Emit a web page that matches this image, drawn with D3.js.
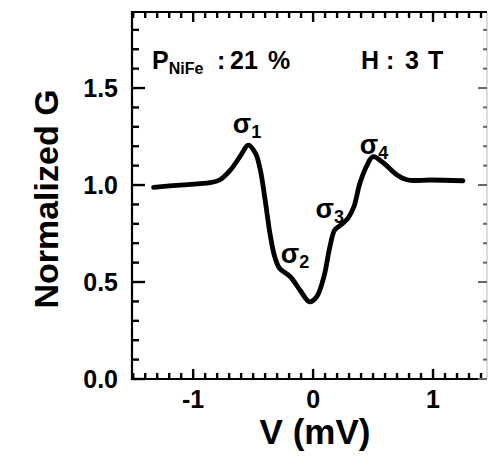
<!DOCTYPE html>
<html>
<head>
<meta charset="utf-8">
<script src="https://cdn.jsdelivr.net/npm/d3@7"></script>
<style>
  html,body{margin:0;padding:0;background:#fff;}
  #chart{width:488px;height:457px;}
  text{font-family:"Liberation Sans",Arial,sans-serif;font-weight:bold;fill:#000;}
</style>
</head>
<body>
<div id="chart"></div>
<script>
// Normalized conductance vs bias, P_NiFe 21 %, H = 3 T
const voltage = [-1.33,-1.11,-0.86,-0.78,-0.69,-0.61,-0.54,-0.48,-0.44,-0.40,-0.36,-0.32,-0.28,-0.19,-0.11,-0.03,0.03,0.09,0.14,0.18,0.23,0.29,0.34,0.39,0.45,0.50,0.59,0.70,0.79,0.98,1.25];
const conductance = [0.988,1.000,1.012,1.026,1.077,1.146,1.206,1.163,1.077,0.923,0.751,0.630,0.571,0.527,0.459,0.398,0.424,0.527,0.682,0.768,0.794,0.828,0.888,1.009,1.103,1.146,1.112,1.052,1.026,1.026,1.022];
const yTicks = [0.0, 0.5, 1.0, 1.5];
const xTicks = [-1, 0, 1];
const peakLabels = [
  {sub:'1', v:-0.67, g:1.27},
  {sub:'2', v:-0.27, g:0.60},
  {sub:'3', v:0.02, g:0.83},
  {sub:'4', v:0.39, g:1.16}
];

(function(){
  const W = 488, H = 457;
  const left = 132, right = 487, top = 12, bottom = 379;

  const svg = d3.select('#chart').append('svg').attr('width',W).attr('height',H);

  const x = d3.scaleLinear().domain([-1.51, 1.45]).range([left, right]);
  const y = d3.scaleLinear().domain([0, 1.892]).range([bottom, top]);

  const allX = d3.range(-15, 15).map(d=>d/10);
  const allY = d3.range(0, 19).map(d=>d/10);
  const isMajX = d=>xTicks.some(t=>Math.abs(t-d)<1e-6);
  const isMajY = d=>yTicks.some(t=>Math.abs(t-d)<1e-6);

  // frame
  svg.append('line').attr('x1',right).attr('x2',right).attr('y1',top).attr('y2',bottom)
    .attr('stroke','#bbb').attr('stroke-width',1);
  svg.append('path').attr('d',`M${right},${top}H${left}V${bottom}H${right}`)
    .attr('fill','none').attr('stroke','#000').attr('stroke-width',2.2);

  // ticks (inward)
  const tickG = svg.append('g').attr('fill','#000');
  tickG.selectAll('.xb').data(allX).enter().append('rect')
    .attr('x',d=>x(d)-1.2).attr('width',2.4)
    .attr('y',d=>bottom-(isMajX(d)?10:6)).attr('height',d=>isMajX(d)?10:6);
  tickG.selectAll('.xt').data(allX).enter().append('rect')
    .attr('x',d=>x(d)-1.2).attr('width',2.4)
    .attr('y',top).attr('height',d=>isMajX(d)?10:6);
  tickG.selectAll('.yl').data(allY).enter().append('rect')
    .attr('x',left).attr('width',d=>isMajY(d)?13:7)
    .attr('y',d=>y(d)-1.2).attr('height',2.4);
  svg.append('g').attr('fill','#666').selectAll('rect').data(allY).enter().append('rect')
    .attr('x',d=>right-(isMajY(d)?9:4)).attr('width',d=>isMajY(d)?9:4)
    .attr('y',d=>y(d)-1).attr('height',2);

  // tick labels
  svg.append('g').selectAll('text').data(xTicks).enter().append('text')
    .attr('x',d=>x(d)).attr('y',bottom+29).attr('text-anchor','middle').attr('font-size',25)
    .text(d=>d<0?'-'+Math.abs(d):String(d));
  svg.append('g').selectAll('text').data(yTicks).enter().append('text')
    .attr('x',left-14).attr('y',d=>y(d)+9).attr('text-anchor','end').attr('font-size',25)
    .text(d=>d.toFixed(1));

  // curve
  const line = d3.line().x((d,i)=>x(voltage[i])).y((d,i)=>y(conductance[i])).curve(d3.curveCatmullRom.alpha(0.5));
  svg.append('path').datum(conductance).attr('d',line)
    .attr('fill','none').attr('stroke','#000').attr('stroke-width',4.8)
    .attr('stroke-linecap','round').attr('stroke-linejoin','round');

  // sigma labels
  peakLabels.forEach(p=>{
    const t = svg.append('text').attr('x',x(p.v)).attr('y',y(p.g)).attr('font-size',27);
    t.append('tspan').text('σ');
    t.append('tspan').attr('font-size',18).attr('dy',5).text(p.sub);
  });

  // annotations
  const ann = svg.append('text').attr('y',69).attr('font-size',25);
  ann.append('tspan').attr('x',152).text('P');
  ann.append('tspan').attr('font-size',16).attr('dy',5).text('NiFe');
  ann.append('tspan').attr('x',217).attr('dy',-5).text(':');
  ann.append('tspan').attr('x',230).text('21');
  ann.append('tspan').attr('x',268).text('%');
  const ann2 = svg.append('text').attr('y',69).attr('font-size',25);
  ann2.append('tspan').attr('x',361).text('H');
  ann2.append('tspan').attr('x',386).text(':');
  ann2.append('tspan').attr('x',405).text('3');
  ann2.append('tspan').attr('x',428).text('T');

  // axis titles
  svg.append('text').attr('x',315).attr('y',444).attr('text-anchor','middle').attr('font-size',35).text('V (mV)');
  svg.append('text').attr('transform',`translate(58,199) rotate(-90)`).attr('text-anchor','middle').attr('font-size',34).text('Normalized G');
})();
</script>
</body>
</html>
